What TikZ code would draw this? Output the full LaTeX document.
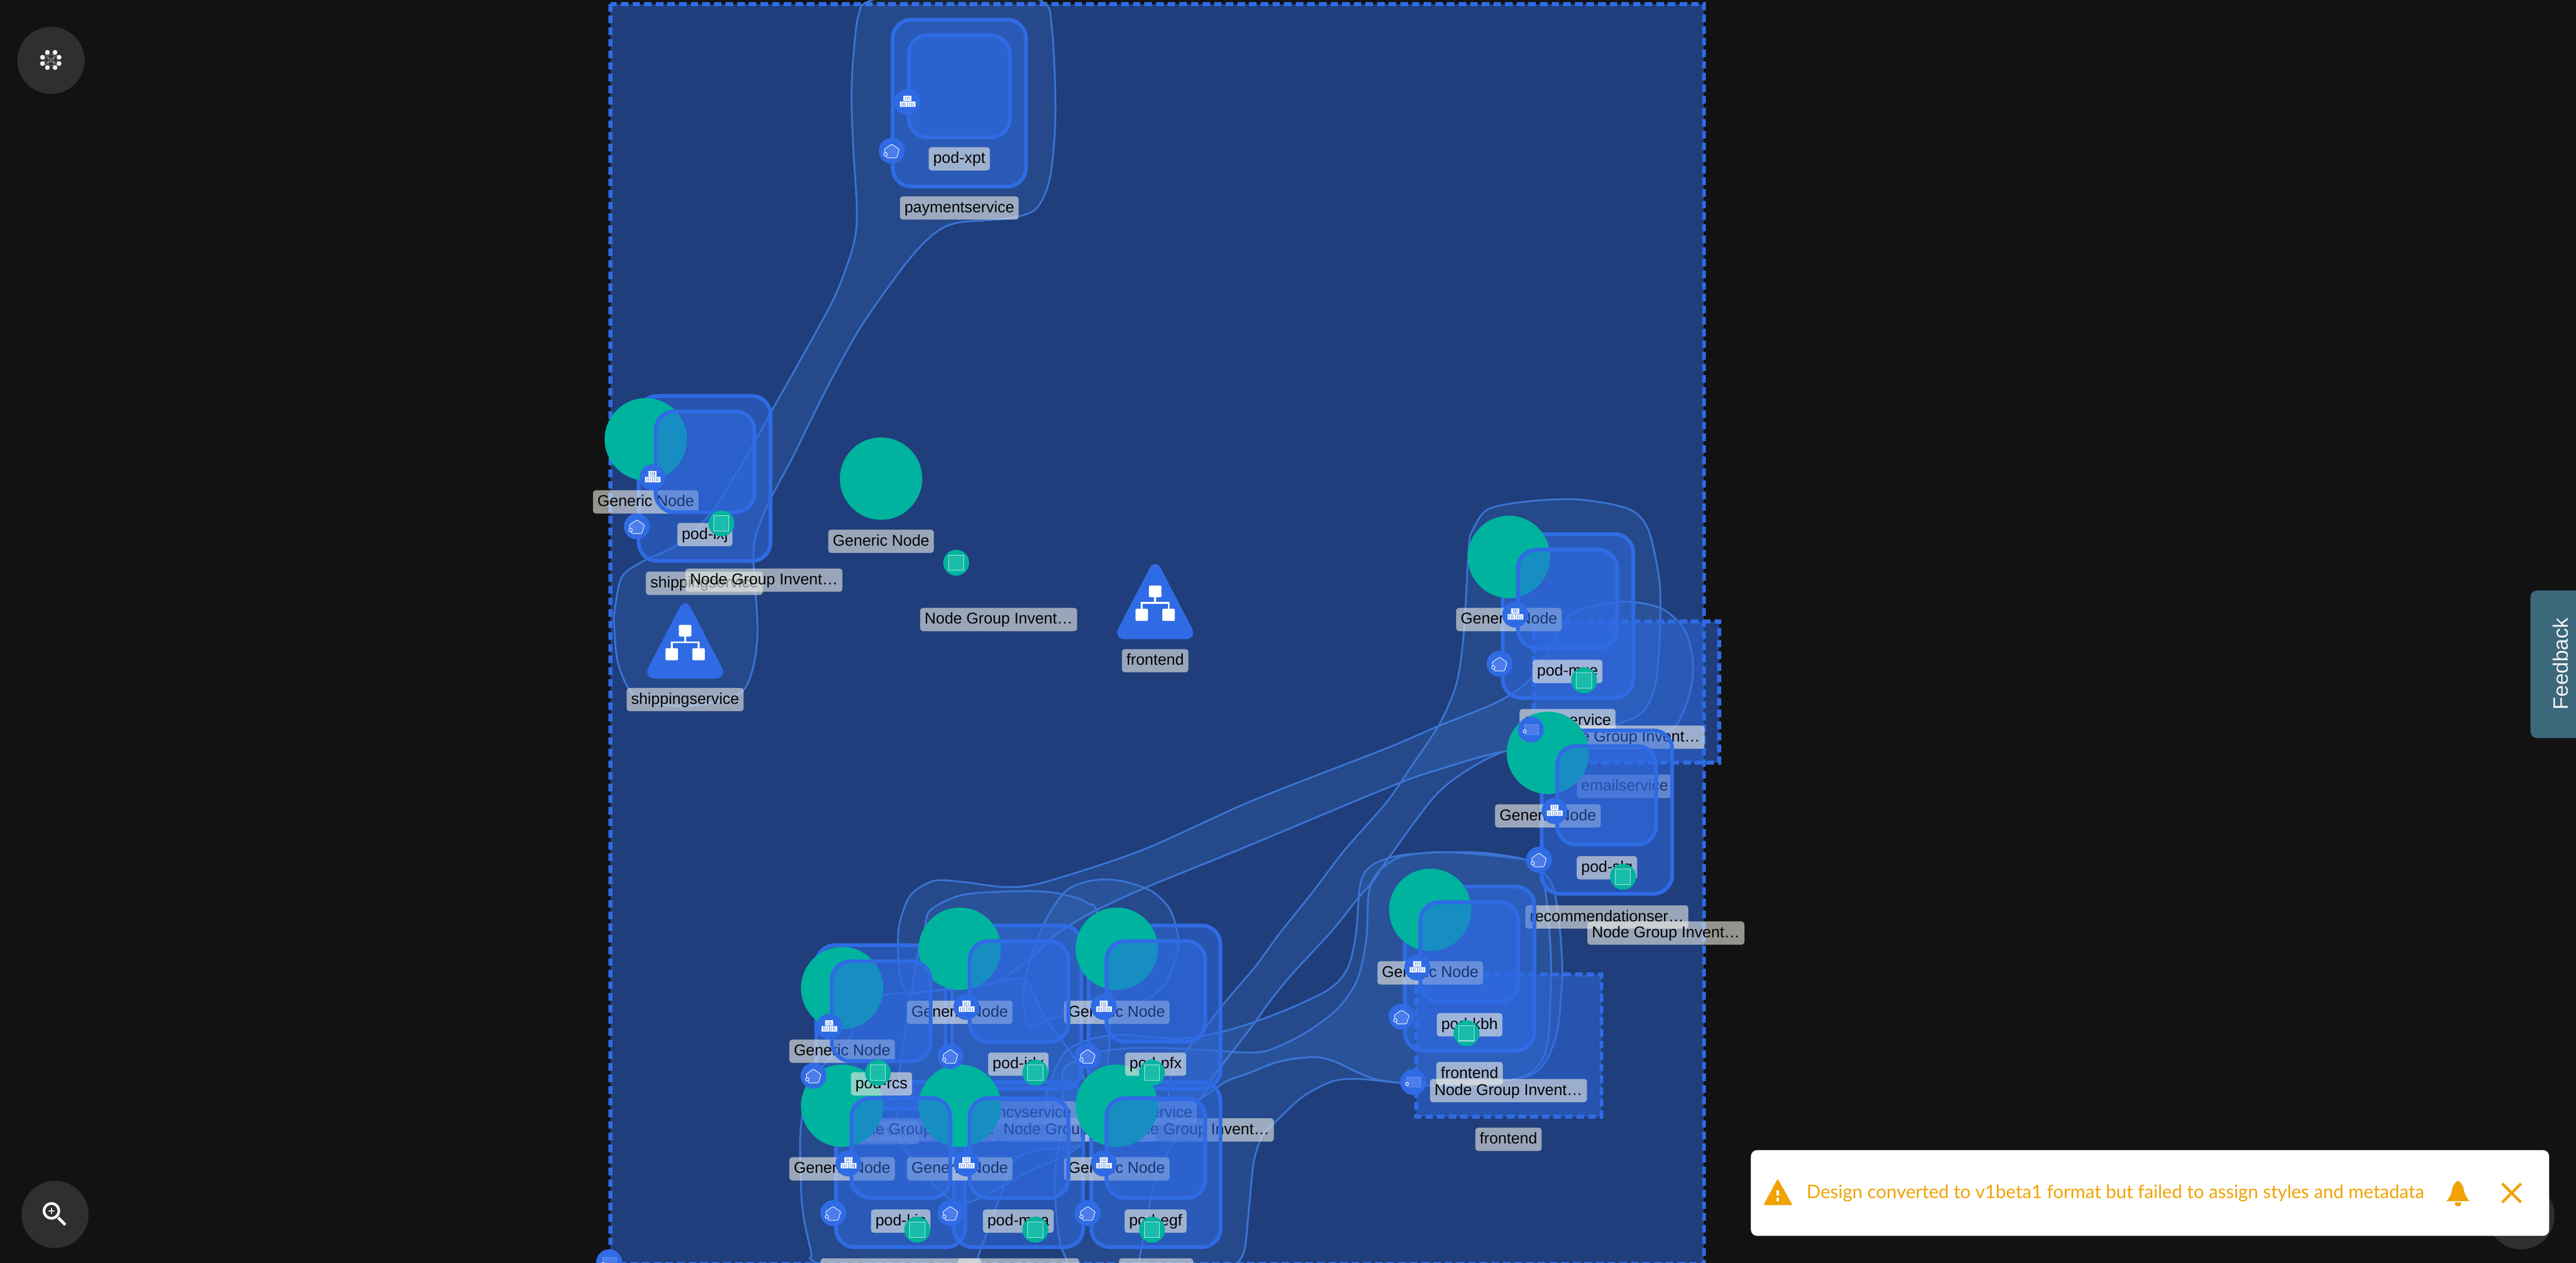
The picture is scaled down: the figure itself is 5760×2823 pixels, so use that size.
\documentclass[tikz,border=0pt]{standalone}
\usepackage{graphicx}
\usepackage{fontspec}
\setmainfont{Liberation Sans}
\newfontfamily\notifont{Lato}
\definecolor{pagebg}{HTML}{121212}
\definecolor{meshblue}{HTML}{2F6BE4}
\definecolor{hullfill}{HTML}{468CEB}
\definecolor{hullline}{HTML}{3A74D2}
\definecolor{meshgreen}{HTML}{00B39F}
\definecolor{greeninner}{HTML}{1ABCAA}
\definecolor{lblcol}{HTML}{EBEBE2}
\definecolor{iconfill}{HTML}{4C7DEB}
\definecolor{warnorange}{HTML}{F0A303}
\definecolor{roundbtn}{HTML}{2F2F2F}
\definecolor{feedbackbg}{HTML}{3C687C}
\tikzset{
  x=0.01cm,y=-0.01cm,
  bigframe/.style={draw=meshblue,fill=meshblue,fill opacity=.5,draw opacity=1,line width=.085cm,dash pattern=on .17cm off .09cm},
  groupframe/.style={draw=meshblue,fill=meshblue,fill opacity=.5,draw opacity=1,line width=.09cm,dash pattern=on .17cm off .09cm},
  hullshape/.style={draw=hullline,fill=hullfill,fill opacity=.15,draw opacity=1,line width=.04cm},
  hullstroke/.style={draw=hullline,line width=.04cm},
  podbox/.style={draw=meshblue,fill=meshblue,fill opacity=.5,draw opacity=1,line width=.085cm,rounded corners=.42cm},
  lblbox/.style={fill=lblcol,fill opacity=.6,text opacity=1,rounded corners=.07cm,inner xsep=.1cm,inner ysep=0pt,
    text height=.36cm,text depth=.16cm,text=black,font=\fontsize{9.96}{12}\selectfont},
  greenball/.style={circle,fill=meshgreen,minimum size=1.84cm,inner sep=0pt},
  smallball/.style={circle,fill=meshgreen,minimum size=.58cm,inner sep=0pt},
  iconball/.style={circle,fill=meshblue,minimum size=.58cm,inner sep=0pt},
  iconline/.style={draw=white,line width=.012cm,fill=iconfill},
  tickline/.style={draw=iconfill,line width=.012cm},
  treebox/.style={fill=white,rounded corners=.02cm},
  treeline/.style={draw=white,line width=.04cm},
  triangleshape/.style={fill=meshblue,rounded corners=.28cm},
  warnmark/.style={fill=warnorange},
  btn/.style={circle,fill=roundbtn,minimum size=1.5cm,inner sep=0pt},
}
\newcommand\lbl[4]{\node[lblbox] (#1) at (#2,#3) {#4};}
\newcommand\gen[4]{\node[greenball] (#1) at (#2,#3) {}; \lbl{#1t}{#2}{#4}{Generic Node}}
\newcommand\smallg[3]{\node[smallball] (#1) at (#2,#3) {};
  \draw[draw=white,draw opacity=.75,fill=greeninner,line width=.012cm] (#2-17,#3-17) rectangle (#2+17,#3+17);}
\newcommand\ctr[3]{\node[iconball] (#1) at (#2,#3) {};
  \begin{scope}[shift={(#2,#3)}]
    \fill[white] (-9,-14) rectangle (9,-2) (-17,-1) rectangle (0,11) (1,-1) rectangle (18,11);
    \foreach \tx in {-4,0,4} {\draw[tickline] (\tx,-12) -- (\tx,-4);}
    \foreach \tx in {-13,-9,-5,5,9,13} {\draw[tickline] (\tx,1) -- (\tx,9);}
  \end{scope}}
\newcommand\pent[3]{\node[iconball] (#1) at (#2,#3) {};
  \begin{scope}[shift={(#2,#3)}]
    \draw[iconline,rounded corners=.02cm] (0,-15) -- (17,-3) -- (11,16) -- (-11,16) -- (-17,-3) -- cycle;
    \draw[iconline] (-14,8) circle[radius=.04cm];
  \end{scope}}
\newcommand\svc[3]{\node[iconball] (#1) at (#2,#3) {};
  \begin{scope}[shift={(#2,#3)}]
    \draw[iconline,densely dotted] (-14,-11) rectangle (17,11);
    \draw[iconline] (-14,4) circle[radius=.035cm];
  \end{scope}}
\newcommand\tri[3]{\node[inner sep=0pt,minimum size=0pt] (#1) at (#2,#3) {};
  \begin{scope}[shift={(#2,#3)}]
    \fill[triangleshape] (0,-14) -- (95,169) -- (-95,169) -- cycle;
    \draw[treeline] (0,60) -- (0,88) (-30,102) -- (-30,88) -- (30,88) -- (30,102);
    \fill[treebox] (-14,49) rectangle (14,75) (-44,101) rectangle (-16,128) (16,101) rectangle (44,128);
  \end{scope}}
\newcommand\podrect[4]{\draw[podbox] (#1+4,#2+4) rectangle (#3-4,#4-4);}
\begin{document}
\begin{tikzpicture}
\path[use as bounding box,clip] (0,0) rectangle (5760,2823);
\fill[pagebg] (0,0) rectangle (5760,2823);
% canvas frame
\draw[bigframe] (1365,9) rectangle (3810,2826);

% hulls
\draw[hullshape] plot[smooth cycle,tension=.5] coordinates {(2140,-50)(1950,0)(1920,32)(1908,128)(1904,217)(1908,332)(1916,472)(1908,549)(1866,664)(1790,804)(1727,916)(1673,1013)(1590,1146)(1516,1217)(1441,1253)(1391,1289)(1375,1360)(1373,1396)(1383,1487)(1424,1559)(1532,1579)(1648,1554)(1681,1503)(1694,1411)(1685,1258)(1690,1197)(1723,1115)(1772,1023)(1814,937)(1858,850)(1927,727)(2027,587)(2088,523)(2141,498)(2256,488)(2317,466)(2348,396)(2360,255)(2352,64)(2325,0)};
\draw[hullshape] plot[smooth cycle,tension=.5] coordinates {(2008,2117)(2012,2061)(2037,2000)(2089,1969)(2155,1972)(2250,1983)(2336,1972)(2555,1900)(2800,1790)(3100,1673)(3219,1622)(3349,1569)(3420,1520)(3469,1443)(3512,1373)(3620,1345)(3712,1359)(3767,1408)(3786,1485)(3777,1555)(3750,1618)(3712,1639)(3600,1650)(3371,1678)(3208,1723)(3100,1762)(2769,1900)(2555,1987)(2428,2047)(2351,2097)(2300,2147)(2213,2200)(2067,2217)(2030,2222)(2012,2184)};
\draw[hullshape] plot[smooth cycle,tension=.5] coordinates {(3292,1187)(3328,1138)(3425,1120)(3534,1117)(3642,1138)(3685,1183)(3710,1295)(3712,1401)(3702,1527)(3675,1590)(3620,1618)(3479,1667)(3371,1678)(3290,1716)(3208,1780)(3100,1925)(3070,1970)(3035,2010)(2979,2080)(2887,2180)(2836,2243)(2810,2280)(2759,2347)(2718,2400)(2684,2457)(2650,2480)(2615,2460)(2620,2400)(2657,2343)(2693,2300)(2729,2253)(2759,2217)(2810,2157)(2861,2087)(2933,1997)(3007,1900)(3100,1794)(3154,1716)(3219,1618)(3257,1527)(3273,1415)(3284,1225)};
\draw[hullshape] plot[smooth cycle,tension=.5] coordinates {(3100,1920)(3070,1933)(3050,1953)(3040,1987)(3032,2087)(3019,2150)(2999,2187)(2963,2217)(2887,2253)(2810,2283)(2739,2305)(2683,2317)(2632,2322)(2570,2318)(2504,2313)(2438,2323)(2387,2347)(2366,2377)(2356,2400)(2340,2450)(2358,2537)(2500,2530)(2600,2500)(2683,2457)(2741,2418)(2790,2400)(2861,2373)(2938,2363)(2984,2373)(3035,2397)(3082,2414)(3160,2424)(3251,2428)(3377,2414)(3433,2390)(3461,2328)(3468,2161)(3461,2041)(3447,1950)(3412,1922)(3321,1907)(3237,1905)(3146,1910)};
\draw[hullshape] plot[smooth cycle,tension=.5] coordinates {(3412,1922)(3237,1905)(3146,1912)(3110,1926)(3075,1957)(3060,2000)(3055,2100)(3035,2190)(2989,2257)(2912,2313)(2836,2348)(2785,2353)(2708,2348)(2606,2343)(2530,2343)(2453,2352)(2402,2373)(2376,2400)(2376,2500)(2358,2633)(2368,2767)(2387,2823)(2420,2920)(2700,2920)(2763,2830)(2783,2793)(2793,2700)(2803,2600)(2822,2540)(2850,2510)(2900,2462)(2935,2438)(2984,2416)(3040,2412)(3131,2421)(3251,2428)(3405,2409)(3454,2376)(3482,2304)(3493,2185)(3489,2089)(3475,1989)(3451,1950)};
\draw[hullshape] plot[smooth cycle,tension=.5] coordinates {(1824,2823)(1814,2800)(1794,2700)(1789,2567)(1792,2507)(1803,2451)(1839,2384)(1898,2323)(1915,2280)(1975,2226)(2067,2217)(2213,2200)(2290,2190)(2340,2280)(2420,2400)(2427,2550)(2328,2570)(2269,2593)(2239,2667)(2190,2800)(2170,2830)(1990,2920)};
\draw[hullshape] plot[smooth cycle,tension=.5] coordinates {(2320,2100)(2346,2043)(2382,1993)(2422,1973)(2468,1966)(2519,1972)(2576,1993)(2616,2033)(2634,2093)(2632,2133)(2606,2200)(2565,2233)(2514,2253)(2371,2272)(2300,2293)(2290,2200)};
\draw[hullshape] plot[smooth cycle,tension=.5] coordinates {(2052,2134)(2067,2078)(2081,2034)(2155,2000)(2287,1992)(2351,1995)(2407,2007)(2433,2020)(2453,2040)(2481,2200)(2484,2267)(2473,2400)(2427,2550)(2300,2620)(2160,2690)(2100,2660)(2051,2600)(2012,2550)(2007,2440)(2025,2300)};
\draw[hullstroke] plot[smooth,tension=.5] coordinates {(2545,2830)(2565,2720)(2585,2633)(2615,2567)(2640,2530)};

% dashed groups
\draw[groupframe] (3429,1389) rectangle (3844,1705);
\draw[groupframe] (3167,2178) rectangle (3581,2496);

% service and group labels
\lbl{paylbl}{2145}{465}{paymentservice}
\lbl{shiplbla}{1575}{1304}{shippingservice}
\lbl{nga}{1708}{1297}{Node Group Invent…}
\lbl{ngb}{2233}{1385}{Node Group Invent…}
\lbl{shiplblb}{1532}{1564}{shippingservice}
\lbl{frontlbla}{2583}{1477}{frontend}
\lbl{emaillbla}{3505}{1611}{emailservice}
\lbl{ngc}{3636}{1648}{Node Group Invent…}
\lbl{emaillblb}{3633}{1758}{emailservice}
\lbl{reclbl}{3593}{2050}{recommendationser…}
\lbl{ngd}{3725}{2086}{Node Group Invent…}
\lbl{frontlblb}{3286}{2400}{frontend}
\lbl{nge}{3373}{2438}{Node Group Invent…}
\lbl{frontlblc}{3373}{2547}{frontend}
\lbl{adlbl}{1970}{2532}{adservice}
\lbl{curlbl}{2273}{2488}{currencyservice}
\lbl{chklbl}{2541}{2488}{checkoutservice}
\lbl{ngf}{2059}{2526}{Node Group Invent…}
\lbl{ngg}{2409}{2526}{Node Group Invent…}
\lbl{ngh}{2673}{2526}{Node Group Invent…}
\fill[lblcol,fill opacity=.6,rounded corners=.07cm] (1835,2813) rectangle (2194,2880);
\fill[lblcol,fill opacity=.6,rounded corners=.07cm] (2142,2813) rectangle (2413,2880);
\fill[lblcol,fill opacity=.6,rounded corners=.07cm] (2502,2813) rectangle (2668,2880);

% triangles
\tri{shiptri}{1532}{1348}
\tri{fronttri}{2583}{1260}

% pod outer boxes
\podrect{1992}{40}{2298}{421}
\podrect{1424}{881}{1727}{1258}
\podrect{3356}{1190}{3656}{1564}
\podrect{3443}{1629}{3743}{2002}
\podrect{3137}{1978}{3435}{2353}
\podrect{1821}{2109}{2119}{2482}
\podrect{2124}{2065}{2422}{2438}
\podrect{2430}{2065}{2733}{2438}
\podrect{1865}{2415}{2162}{2792}
\podrect{2129}{2415}{2426}{2792}
\podrect{2436}{2415}{2733}{2792}

% generic nodes
\gen{gb}{1444}{982}{1122}
\gen{gm}{1970}{1070}{1210}
\gen{gc}{3374}{1245}{1385}
\gen{gd}{3461}{1683}{1824}
\gen{ge}{3198}{2034}{2175}
\gen{gr}{1883}{2209}{2350}
\gen{gi}{2146}{2121}{2263}
\gen{gp}{2497}{2121}{2263}
\gen{gk}{1883}{2472}{2613}
\gen{gn}{2146}{2472}{2613}
\gen{gf}{2497}{2472}{2613}

% inner boxes
\podrect{2028}{75}{2262}{311}
\podrect{1462}{916}{1691}{1149}
\podrect{3390}{1225}{3620}{1453}
\podrect{3478}{1664}{3707}{1892}
\podrect{3172}{2013}{3399}{2244}
\podrect{1856}{2145}{2085}{2376}
\podrect{2164}{2100}{2393}{2333}
\podrect{2470}{2100}{2699}{2333}
\podrect{1900}{2451}{2129}{2682}
\podrect{2164}{2451}{2393}{2682}
\podrect{2470}{2451}{2699}{2682}

% pod labels
\lbl{pxpt}{2145}{355}{pod-xpt}
\lbl{plxj}{1576}{1195}{pod-lxj}
\lbl{pmxe}{3505}{1501}{pod-mxe}
\lbl{pslg}{3593}{1940}{pod-slg}
\lbl{pkbh}{3286}{2291}{pod-kbh}
\lbl{prcs}{1971}{2423}{pod-rcs}
\lbl{pidx}{2277}{2379}{pod-idx}
\lbl{ppfx}{2584}{2379}{pod-pfx}
\lbl{pkis}{2014}{2730}{pod-kis}
\lbl{pmna}{2277}{2730}{pod-mna}
\lbl{pegf}{2584}{2730}{pod-egf}

% icons
\ctr{ca}{2029}{228} \pent{pa}{1994}{337}
\ctr{cb}{1459}{1067} \pent{pb}{1424}{1177} \smallg{sb}{1613}{1170}
\smallg{sm}{2138}{1258}
\ctr{cc}{3388}{1374} \pent{pc}{3353}{1484} \smallg{sc}{3542}{1521}
\ctr{cd}{3476}{1813} \pent{pd}{3441}{1922} \smallg{sd}{3629}{1960} \svc{vd}{3423}{1631}
\ctr{ce}{3169}{2163} \pent{pe}{3134}{2273} \smallg{se}{3279}{2310} \svc{ve}{3160}{2419}
\ctr{cr}{1854}{2295} \pent{pr}{1819}{2405} \smallg{sr}{1963}{2398}
\ctr{ci}{2161}{2251} \pent{pi}{2125}{2361} \smallg{si}{2315}{2398}
\ctr{cp}{2468}{2251} \pent{pp}{2432}{2361} \smallg{sp}{2576}{2398}
\ctr{ck}{1897}{2601} \pent{pk}{1863}{2712} \smallg{sk}{2051}{2749}
\ctr{cn}{2161}{2601} \pent{pn}{2125}{2712} \smallg{sn}{2315}{2749}
\ctr{cf}{2468}{2601} \pent{pf}{2432}{2712} \smallg{sf}{2576}{2749}
\svc{vz}{1362}{2822}

% UI: top left button
\node[btn] (menubtn) at (114,135) {};
\foreach \dx/\dy in {106/117,123/117,95/128,132/128,95/142,132/142,106/151,123/151} {\fill[white!95!black] (\dx,\dy) circle[radius=.054cm];}
\draw[white!70!black,line width=.008cm,rounded corners=.05cm] (100,122) rectangle (128,147);
\draw[white!70!black,line width=.008cm] (103,125) -- (125,144) (125,125) -- (103,144) (108,122) -- (108,147) (120,122) -- (120,147) (100,130) -- (128,130) (100,139) -- (128,139);
% UI: bottom left button
\node[btn] (zoombtn) at (123,2715) {};
\draw[white!97!black,line width=.06cm] (115,2707) circle[radius=.165cm];
\draw[white!97!black,line width=.025cm] (108,2707) -- (122,2707) (115,2700) -- (115,2714);
\draw[white!97!black,line width=.065cm] (130,2722) -- (146,2738);
% UI: feedback tab
\fill[feedbackbg,rounded corners=.15cm] (5658,1320) rectangle (5800,1650);
\node[rotate=90,text=white!95!black,font=\fontsize{13.3}{16}\selectfont,inner sep=0pt] (fb) at (5725,1484) {Feedback};
% UI: notification
\node[btn] (notifbtn) at (5637,2718) {};
\fill[white,rounded corners=.14cm] (3915,2571) rectangle (5700,2763);
\fill[warnmark,rounded corners=.03cm] (3975,2635) -- (4008,2694) -- (3943,2694) -- cycle;
\fill[white] (3972,2661) rectangle (3978,2673) (3972,2678) rectangle (3978,2685);
\node[anchor=west,inner sep=0pt,text=warnorange] (notiftext) at (4039,2668) {\resizebox{13.8cm}{!}{\notifont Design converted to v1beta1 format but failed to assign styles and metadata}};
\fill[warnmark] (5470,2685) .. controls (5484,2672) and (5482,2655) .. (5486,2650) .. controls (5490,2644) and (5493,2640) .. (5496,2640) .. controls (5499,2640) and (5502,2644) .. (5506,2650) .. controls (5510,2655) and (5508,2672) .. (5522,2685) -- cycle;
\fill[warnmark] (5489,2688) rectangle (5503,2690) (5489,2690) arc[start angle=180,end angle=360,radius=.07cm];
\draw[warnorange,line width=.06cm] (5595,2646) -- (5637,2688) (5637,2646) -- (5595,2688);
\end{tikzpicture}
\end{document}
